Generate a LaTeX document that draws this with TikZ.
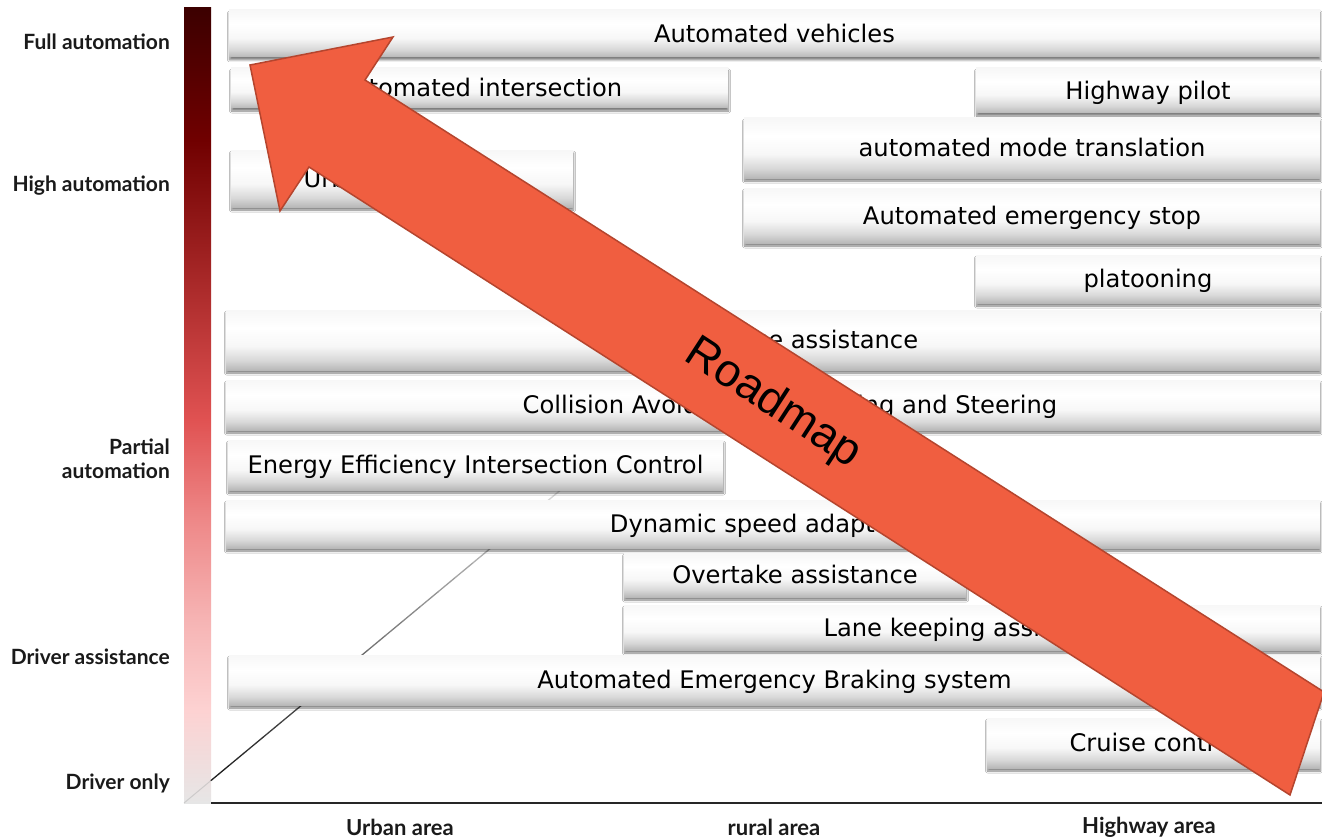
\documentclass[tikz,border=0pt]{standalone}
\usepackage{fontspec}
\setmainfont{DejaVu Sans}
\newfontfamily\labfont{Lato}
\newfontfamily\arialfont{Liberation Sans}
\usetikzlibrary{shadows.blur}
\definecolor{barA}{HTML}{3C0000}
\definecolor{barB}{HTML}{700000}
\definecolor{barC}{HTML}{A82828}
\definecolor{barD}{HTML}{E05252}
\definecolor{barE}{HTML}{EE8888}
\definecolor{barF}{HTML}{F6B4B4}
\definecolor{barG}{HTML}{FDD2D2}
\definecolor{barH}{HTML}{E6E6E6}
\definecolor{bxB}{HTML}{B8B8B8}
\definecolor{bxM}{HTML}{D8D8D8}
\definecolor{bxW}{HTML}{F7F7F7}
\definecolor{arrowfill}{HTML}{F05E40}
\definecolor{arrowedge}{HTML}{B5452E}
\definecolor{labtext}{HTML}{1A1A1A}
\pgfdeclareverticalshading{autobar}{100bp}{color(0bp)=(barH); color(25bp)=(barH); color(30.8bp)=(barG); color(36.5bp)=(barF); color(42.8bp)=(barE); color(49.1bp)=(barD); color(57.9bp)=(barC); color(66.7bp)=(barB); color(75bp)=(barA); color(100bp)=(barA)}
\pgfdeclareverticalshading{boxshade}{100bp}{color(0bp)=(bxB); color(25bp)=(bxB); color(33bp)=(bxM); color(45bp)=(bxW); color(60bp)=(white); color(75bp)=(bxW); color(100bp)=(bxW)}
\begin{document}
\begin{tikzpicture}[x=1pt,y=-1pt,
  vbox/.style={rectangle, inner sep=0pt, shading=boxshade,
    blur shadow={shadow xshift=0.5pt, shadow yshift=-3pt, shadow blur radius=2pt, shadow blur steps=6, shadow opacity=50},
    font=\fontsize{24.2}{28}\selectfont, text=black, text height=19pt, text depth=1.5pt},
  lab/.style={anchor=east, inner sep=0pt, text=labtext, font=\labfont\bfseries\fontsize{21}{24}\selectfont, align=right},
  blab/.style={inner sep=0pt, text=labtext, font=\labfont\bfseries\fontsize{22}{24}\selectfont},
  roadarrow/.style={fill=arrowfill, draw=arrowedge, line width=1.5pt, line join=miter}
]
\useasboundingbox (0,0) rectangle (1322,840);
\fill[white] (0,0) rectangle (1322,840);

% level bar
\shade[shading=autobar] (184,8) rectangle (211,803);
\draw[black!30, line width=1pt, opacity=0.5] (184,803) -- (211,780.5);

% diagonal trend line
\foreach \i [evaluate=\i as \xa using 211+17.45*\i,
             evaluate=\i as \ya using 780.5-14.5*\i,
             evaluate=\i as \xb using 211+17.45*(\i+1),
             evaluate=\i as \yb using 780.5-14.5*(\i+1),
             evaluate=\i as \c using 88-3.8*\i] in {0,...,19}
  {\draw[black!\c, line width=1.3pt, line cap=round] (\xa,\ya) -- (\xb,\yb);}

% horizontal axis
\draw[black!85, line width=1.5pt] (211,803) -- (1322,803);

% left labels
\node[lab] (lfull) at (170,42) {Full automation};
\node[lab] (lhigh) at (170,186) {High automation};
\node[lab] (lpart) at (170,459) {Partial\\automation};
\node[lab] (lassist) at (170,657) {Driver assistance};
\node[lab] (lonly) at (170,783) {Driver only};

% bottom labels
\node[blab] (urban) at (400,827) {Urban area};
\node[blab] (rural) at (774,827) {rural area};
\node[blab] (highway) at (1149,827) {Highway area};

% function boxes
\node[vbox, minimum width=1091pt, minimum height=47pt] (b1) at (774.5,33.5) {Automated vehicles};
\node[vbox, minimum width=497pt, minimum height=40pt] (b2) at (479.5,88) {Automated intersection};
\node[vbox, minimum width=344pt, minimum height=45pt] (b3) at (1148,90.5) {Highway pilot};
\node[vbox, minimum width=576pt, minimum height=60pt] (b4) at (1032,148) {automated mode translation};
\node[vbox, minimum width=342pt, minimum height=57pt] (b5) at (402,178.5) {Urban chauffeur};
\node[vbox, minimum width=576pt, minimum height=55pt] (b6) at (1032,215.5) {Automated emergency stop};
\node[vbox, minimum width=344pt, minimum height=48pt] (b7) at (1148,279) {platooning};
\node[vbox, minimum width=1094pt, minimum height=60pt] (b8) at (773,340) {Lane change assistance};
\node[vbox, minimum width=1094pt, minimum height=50pt] (b9) at (773,405) {\hspace*{34pt}Collision Avoidance by Braking and Steering};
\node[vbox, minimum width=495pt, minimum height=50pt] (b10) at (475.5,465) {Energy Efficiency Intersection Control};
\node[vbox, minimum width=1094pt, minimum height=48pt] (b11) at (773,524) {Dynamic speed adaptation};
\node[vbox, minimum width=342pt, minimum height=44pt] (b12) at (795,575) {Overtake assistance};
\node[vbox, minimum width=696pt, minimum height=45pt] (b13) at (972,627.5) {Lane keeping assistance};
\node[vbox, minimum width=1091pt, minimum height=50pt] (b14) at (774.5,680) {Automated Emergency Braking system};
\node[vbox, minimum width=333pt, minimum height=50pt] (b15) at (1153.5,743) {Cruise control};

% roadmap arrow
\draw[roadarrow] (250,65) -- (393,37) -- (365,80) -- (1324,692) -- (1290,795) -- (309,167) -- (280,211) -- cycle;
\node[rotate=-33, inner sep=0pt, font=\arialfont\fontsize{46}{50}\selectfont, text=black] (road) at (773,404) {Roadmap};
\end{tikzpicture}
\end{document}
